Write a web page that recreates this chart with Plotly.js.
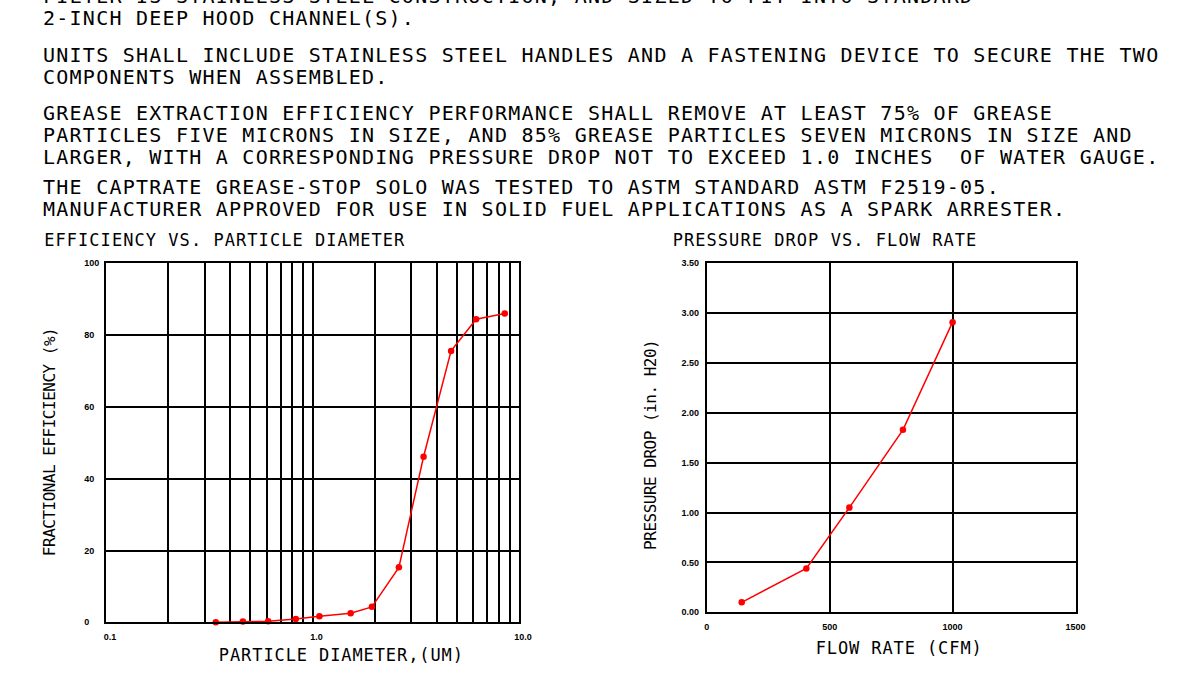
<!DOCTYPE html>
<html>
<head>
<meta charset="utf-8">
<script src="https://cdn.plot.ly/plotly-3.0.1.min.js"></script>
<style>
  html, body { margin: 0; padding: 0; background: #fff; }
  #chart { width: 1177px; height: 676px; }
  .annotation-text { letter-spacing: 1.25px; }
  .annotation[data-index="9"] .annotation-text,
  .annotation[data-index="10"] .annotation-text { letter-spacing: 1.05px; }
  .annotation[data-index="11"] .annotation-text,
  .annotation[data-index="12"] .annotation-text { letter-spacing: -0.5px; }
  .annotation[data-index="13"] .annotation-text,
  .annotation[data-index="14"] .annotation-text { letter-spacing: 0.9px; }
</style>
</head>
<body>
<div id="chart"></div>
<script>
// ---------- DATA ----------
const effDiameter = [0.34, 0.46, 0.61, 0.83, 1.08, 1.53, 1.94, 2.62, 3.45, 4.69, 6.2, 8.53];
const effPercent  = [0.0, 0.2, 0.3, 0.9, 1.7, 2.5, 4.3, 15.3, 46.1, 75.6, 84.4, 86.0];

const flowRate     = [142, 405, 580, 798, 1000];
const pressureDrop = [0.10, 0.44, 1.05, 1.83, 2.91];

const effXTickVals = [0.1, 0.2, 0.3, 0.4, 0.5, 0.6, 0.7, 0.8, 0.9, 1, 2, 3, 4, 5, 6, 7, 8, 9, 10];
const effXTickText = ['0.1', '', '', '', '', '', '', '', '', '1.0', '', '', '', '', '', '', '', '', '10.0'];
const effYTickVals = [0, 20, 40, 60, 80, 100];
const effYTickText = ['0', '20', '40', '60', '80', '100'];

const flowTickVals = [0, 500, 1000, 1500];
const flowTickText = ['0', '500', '1000', '1500'];
const pressTickVals = [0, 0.5, 1.0, 1.5, 2.0, 2.5, 3.0, 3.5];
const pressTickText = ['0.00', '0.50', '1.00', '1.50', '2.00', '2.50', '3.00', '3.50'];

const paragraphLines = [
  'FILTER IS STAINLESS STEEL CONSTRUCTION, AND SIZED TO FIT INTO STANDARD',
  '2-INCH DEEP HOOD CHANNEL(S).',
  'UNITS SHALL INCLUDE STAINLESS STEEL HANDLES AND A FASTENING DEVICE TO SECURE THE TWO',
  'COMPONENTS WHEN ASSEMBLED.',
  'GREASE EXTRACTION EFFICIENCY PERFORMANCE SHALL REMOVE AT LEAST 75% OF GREASE',
  'PARTICLES FIVE MICRONS IN SIZE, AND 85% GREASE PARTICLES SEVEN MICRONS IN SIZE AND',
  'LARGER, WITH A CORRESPONDING PRESSURE DROP NOT TO EXCEED 1.0 INCHES \u00A0OF WATER GAUGE.',
  'THE CAPTRATE GREASE-STOP SOLO WAS TESTED TO ASTM STANDARD ASTM F2519-05.',
  'MANUFACTURER APPROVED FOR USE IN SOLID FUEL APPLICATIONS AS A SPARK ARRESTER.'
];
const chartTitles = ['EFFICIENCY VS. PARTICLE DIAMETER', 'PRESSURE DROP VS. FLOW RATE'];
const axisTitles = {
  effX: 'PARTICLE DIAMETER,(UM)',
  flowX: 'FLOW RATE (CFM)',
  effY: 'FRACTIONAL EFFICIENCY (%)',
  pressY: 'PRESSURE DROP (in. H20)'
};

// ---------- LAYOUT ----------
const W = 1177, H = 676;
const px = v => v / W;
const py = v => 1 - v / H;

const MONO = 'DejaVu Sans Mono';
const TICKFONT = { family: 'Liberation Sans, Arial, sans-serif', size: 9, color: '#000', weight: 'bold' };

// left-align the efficiency y labels (one digit = 2 NBSP wide)
const maxLen = Math.max(...effYTickText.map(s => s.length));
const effYTickTextPadded = effYTickText.map(s => s + '\u00A0\u00A0'.repeat(maxLen - s.length));

const lineY = [-4, 18, 55, 77, 113, 135, 157, 187, 209];

const annotations = [];
paragraphLines.forEach((t, i) => {
  annotations.push({ text: t, xref: 'paper', yref: 'paper', x: px(41), y: py(lineY[i]),
    xanchor: 'left', yanchor: 'middle', showarrow: false,
    font: { family: MONO, size: 20, color: '#000' } });
});
annotations.push({ text: chartTitles[0], xref: 'paper', yref: 'paper', x: px(38.5), y: py(240),
  xanchor: 'left', yanchor: 'middle', showarrow: false, font: { family: MONO, size: 17, color: '#000' } });
annotations.push({ text: chartTitles[1], xref: 'paper', yref: 'paper', x: px(667.5), y: py(240),
  xanchor: 'left', yanchor: 'middle', showarrow: false, font: { family: MONO, size: 17, color: '#000' } });
// y titles (index 11, 12)
annotations.push({ text: axisTitles.effY, xref: 'paper', yref: 'paper', x: px(49.5), y: py(442.5),
  xanchor: 'center', yanchor: 'middle', textangle: -90, showarrow: false, font: { family: MONO, size: 16, color: '#000' } });
annotations.push({ text: axisTitles.pressY, xref: 'paper', yref: 'paper', x: px(650), y: py(445),
  xanchor: 'center', yanchor: 'middle', textangle: -90, showarrow: false, font: { family: MONO, size: 16, color: '#000' } });
// x titles (index 13, 14)
annotations.push({ text: axisTitles.effX, xref: 'paper', yref: 'paper', x: px(341), y: py(655),
  xanchor: 'center', yanchor: 'middle', showarrow: false, font: { family: MONO, size: 17, color: '#000' } });
annotations.push({ text: axisTitles.flowX, xref: 'paper', yref: 'paper', x: px(899), y: py(648),
  xanchor: 'center', yanchor: 'middle', showarrow: false, font: { family: MONO, size: 17, color: '#000' } });

const axisCommon = {
  showgrid: true, gridcolor: '#000', gridwidth: 2,
  showline: true, linecolor: '#000', linewidth: 2, mirror: true,
  zeroline: false, ticks: '', tickfont: TICKFONT, fixedrange: true
};

const layout = {
  width: W, height: H,
  margin: { l: 0, r: 0, t: 0, b: 0, pad: 0 },
  paper_bgcolor: '#fff', plot_bgcolor: '#fff',
  showlegend: false,
  xaxis: Object.assign({}, axisCommon, {
    type: 'log', range: [-1, 1], domain: [px(106), px(519)],
    tickmode: 'array', tickvals: effXTickVals, ticktext: effXTickText,
    anchor: 'y', ticklabelshift: 4, ticklabelstandoff: 5
  }),
  yaxis: Object.assign({}, axisCommon, {
    range: [0, 100], domain: [py(622.3), py(263.3)],
    tickmode: 'array', tickvals: effYTickVals, ticktext: effYTickTextPadded,
    anchor: 'x', ticklabelstandoff: 3
  }),
  xaxis2: Object.assign({}, axisCommon, {
    range: [0, 1500], domain: [px(706.8), px(1075.5)],
    tickmode: 'array', tickvals: flowTickVals, ticktext: flowTickText,
    anchor: 'y2', ticklabelstandoff: 5
  }),
  yaxis2: Object.assign({}, axisCommon, {
    range: [0, 3.5], domain: [py(612.3), py(263.3)],
    tickmode: 'array', tickvals: pressTickVals, ticktext: pressTickText,
    anchor: 'x2', ticklabelstandoff: 4
  }),
  annotations: annotations
};

const traceStyle = {
  type: 'scatter', mode: 'lines+markers', hoverinfo: 'skip',
  line: { color: '#ff0000', width: 1.5 },
  marker: { color: '#ff0000', size: 6.5 }
};

const data = [
  Object.assign({}, traceStyle, { x: effDiameter, y: effPercent, xaxis: 'x', yaxis: 'y', cliponaxis: false }),
  Object.assign({}, traceStyle, { x: flowRate, y: pressureDrop, xaxis: 'x2', yaxis: 'y2', cliponaxis: false })
];

Plotly.newPlot('chart', data, layout, { staticPlot: true, displayModeBar: false });
</script>
</body>
</html>
